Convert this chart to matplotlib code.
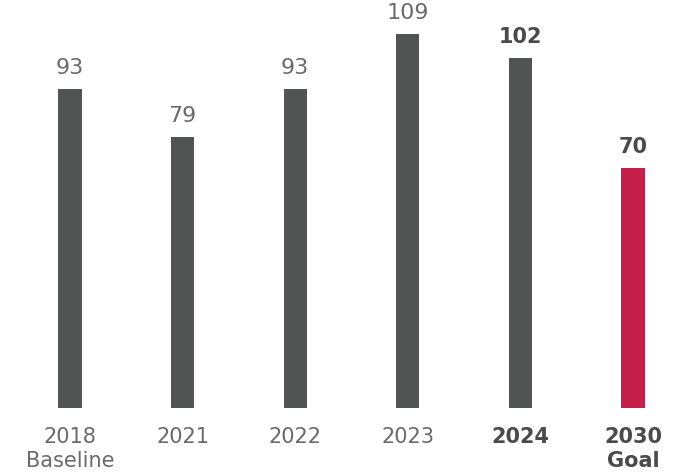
import matplotlib.pyplot as plt

# data
years = ['2018\nBaseline', '2021', '2022', '2023', '2024', '2030\nGoal']
values = [93, 79, 93, 109, 102, 70]
highlight = [False, False, False, False, True, True]
colors = ['#525453', '#525453', '#525453', '#525453', '#525453', '#C41E4A']

plt.rcParams['font.family'] = 'DejaVu Sans'

fig = plt.figure(figsize=(6.86, 4.75), dpi=100)
ax = fig.add_axes([0, 67 / 475, 1, 408 / 475])

x = list(range(len(values)))
ax.bar(x, values, width=0.205, color=colors)

for xi, v, hl in zip(x, values, highlight):
    ax.annotate(str(v), (xi, v), xytext=(0, 8), textcoords='offset points',
                ha='center', va='bottom', fontsize=15 if hl else 16,
                fontweight='bold' if hl else 'normal',
                color='#4a4a4a' if hl else '#6a6a6a')

ax.set_xlim(-0.622, 5.471)
ax.set_ylim(0, 119)
ax.set_xticks(x)
ax.set_xticklabels(years, fontsize=15, linespacing=1.25)
for lbl, hl in zip(ax.get_xticklabels(), highlight):
    lbl.set_fontweight('bold' if hl else 'normal')
    lbl.set_color('#4a4a4a' if hl else '#6a6a6a')
    lbl.set_verticalalignment('top')
ax.tick_params(axis='x', length=0, pad=14)
ax.set_yticks([])
for s in ax.spines.values():
    s.set_visible(False)

plt.savefig('out.png', dpi=100)
